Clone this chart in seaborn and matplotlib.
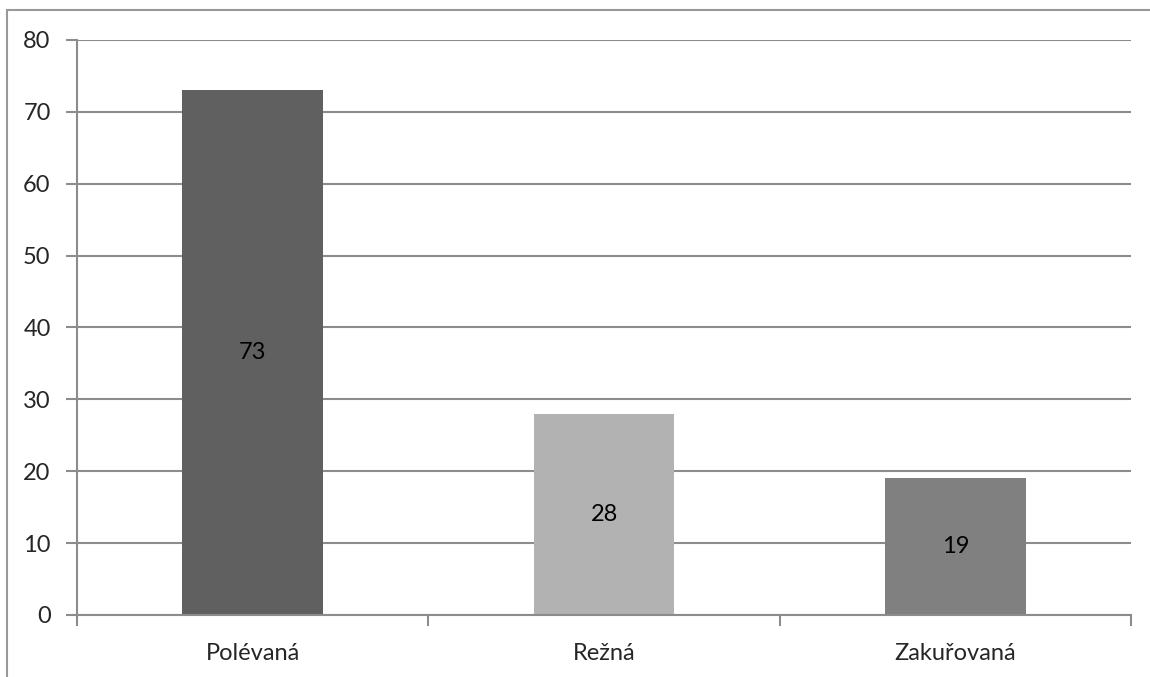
import matplotlib
matplotlib.use("Agg")
import matplotlib.pyplot as plt
import seaborn as sns
import pandas as pd

# Data
kategorie = ["Polévaná", "Režná", "Zakuřovaná"]
pocty = [73, 28, 19]
barvy = ["#606060", "#b2b2b2", "#808080"]

sns.set_style("white")
plt.rcParams["font.family"] = ["Lato", "DejaVu Sans"]

df = pd.DataFrame({"kategorie": kategorie, "pocet": pocty})

fig = plt.figure(figsize=(11.5, 6.77), dpi=100)
ax = fig.add_axes([0.067, 0.0916, 0.9165, 0.8494])

sns.barplot(data=df, x="kategorie", y="pocet", hue="kategorie",
            palette=barvy, width=0.4, legend=False, ax=ax, saturation=1,
            edgecolor="none", linewidth=0)

ax.set_ylim(0, 80)
ax.set_xlim(-0.5, 2.5)
ax.set_yticks(range(0, 81, 10))
ax.yaxis.grid(True, color="#8c8c8c", linewidth=1.5)
ax.set_axisbelow(True)
ax.set_xlabel("")
ax.set_ylabel("")

for s in ["top", "right"]:
    ax.spines[s].set_visible(False)
for s in ["left", "bottom"]:
    ax.spines[s].set_color("#8c8c8c")
    ax.spines[s].set_linewidth(1.5)

# x ticks at category boundaries
ax.set_xticks([0, 1, 2])
ax.set_xticks([-0.5, 0.5, 1.5, 2.5], minor=True)
ax.tick_params(axis="x", which="major", bottom=False, labelsize=17, pad=17)
ax.tick_params(axis="x", which="minor", bottom=True, length=8, width=1.5,
               color="#8c8c8c", direction="out")
ax.tick_params(axis="y", left=True, length=8, width=1.5, color="#8c8c8c",
               direction="out", labelsize=17, pad=11)

# value labels
for i, v in enumerate(pocty):
    ax.text(i, v / 2, str(v), ha="center", va="center", fontsize=17, color="black")

# outer frame lines
fig.add_artist(plt.Line2D([7 / 1150, 7 / 1150], [0, 1 - 10 / 677], color="#999999", lw=1.5))
fig.add_artist(plt.Line2D([7 / 1150, 1], [1 - 10 / 677, 1 - 10 / 677], color="#999999", lw=1.5))

fig.savefig("out.png", dpi=100)
